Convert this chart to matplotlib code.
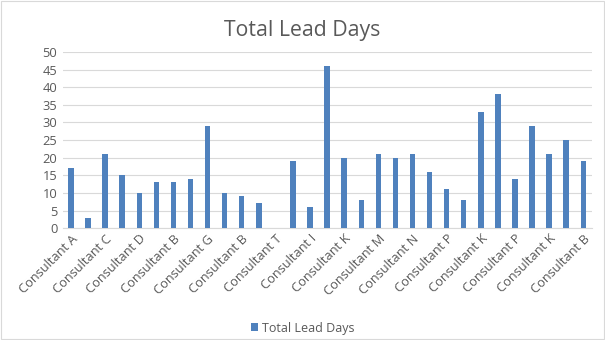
import matplotlib
matplotlib.use("Agg")
import matplotlib.pyplot as plt
import numpy as np

plt.rcParams['font.family'] = ['Open Sans', 'DejaVu Sans']

# Total lead days per consultant row (every other row is labelled on the axis)
lead_days = [17, 3, 21, 15, 10, 13, 13, 14, 29, 10, 9, 7, 0, 19, 6, 46,
             20, 8, 21, 20, 21, 16, 11, 8, 33, 38, 14, 29, 21, 25, 19]
tick_labels = ["Consultant A", "Consultant C", "Consultant D", "Consultant B",
               "Consultant G", "Consultant B", "Consultant T", "Consultant I",
               "Consultant K", "Consultant M", "Consultant N", "Consultant P",
               "Consultant K", "Consultant P", "Consultant K", "Consultant B"]
y_ticks = [0, 5, 10, 15, 20, 25, 30, 35, 40, 45, 50]

bar_color = "#4F81BD"
text_color = "#595959"
grid_color = "#D9D9D9"

fig = plt.figure(figsize=(6.05, 3.4), dpi=100)
ax = fig.add_axes([0.104, 0.329, 0.875, 0.518])

x = np.arange(len(lead_days))
ax.bar(x, lead_days, width=0.32, color=bar_color, label="Total Lead Days", zorder=3)

ax.set_xlim(-0.47, len(lead_days) - 0.47)
ax.set_ylim(0, 50)
ax.set_yticks(y_ticks)
ax.set_xticks(x[::2])
ax.set_xticklabels(tick_labels, rotation=45, ha="right", rotation_mode="anchor",
                   fontsize=9.3, color=text_color)
ax.tick_params(axis="y", labelsize=9.3, labelcolor=text_color, length=0, pad=4)
ax.tick_params(axis="x", length=0, pad=3)

ax.grid(axis="y", color=grid_color, linewidth=0.8, zorder=0)
for side in ["top", "right", "left"]:
    ax.spines[side].set_visible(False)
ax.spines["bottom"].set_color(grid_color)
ax.spines["bottom"].set_linewidth(0.8)

fig.text(0.5, 0.91, "Total Lead Days", ha="center", va="center",
         fontsize=15.3, color=text_color)

fig.legend(loc="center", bbox_to_anchor=(0.5, 0.035), frameon=False, fontsize=9,
           handlelength=0.6, handleheight=0.6, handletextpad=0.3,
           labelcolor=text_color)

# light outer border
fig.patches.append(plt.Rectangle((0.001, 0.002), 0.997, 0.995, transform=fig.transFigure,
                                 fill=False, edgecolor="#D9D9D9", linewidth=0.8))

fig.savefig("out.png", dpi=100)
